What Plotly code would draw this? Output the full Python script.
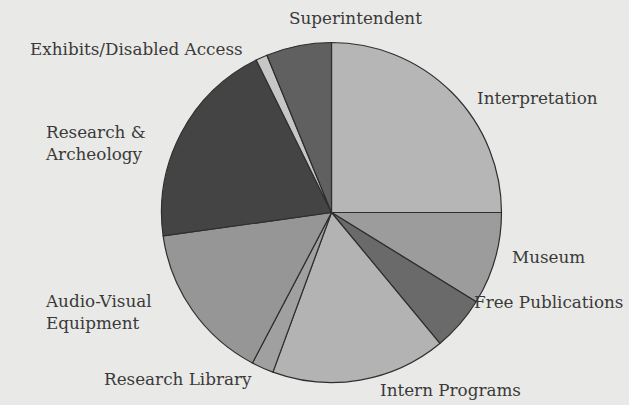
import plotly.graph_objects as go

categories = ["Interpretation", "Museum", "Free Publications", "Intern Programs",
              "Research Library", "Audio-Visual Equipment", "Research & Archeology",
              "Exhibits/Disabled Access", "Superintendent"]
values = [25.0, 8.8, 5.2, 16.6, 2.1, 15.1, 19.9, 1.1, 6.2]
slice_colors = ["#b6b6b6", "#9c9c9c", "#6a6a6a", "#b3b3b3", "#a0a0a0",
                "#969696", "#444444", "#c6c6c6", "#606060"]

# label text and placement (pixels from top-left, anchor)
label_texts = ["Interpretation", "Museum", "Free Publications", "Intern Programs",
               "Research Library", "Audio-Visual<br>Equipment", "Research &amp;<br>Archeology",
               "Exhibits/Disabled Access", "Superintendent"]
label_pos = [(475, 98, "left"), (510, 257, "left"), (472, 302, "left"), (450, 390, "center"),
             (178, 379, "center"), (43, 312, "left"), (43, 143, "left"),
             (245, 49, "right"), (355, 18, "center")]

W, H = 629, 405
cx, cy, r = 331.5, 212.5, 170

fig = go.Figure(go.Pie(
    labels=categories, values=values, sort=False, direction="clockwise", rotation=0,
    marker=dict(colors=slice_colors, line=dict(color="#2e2e2e", width=1.2)),
    textinfo="none", hoverinfo="label+percent", showlegend=False,
    domain=dict(x=[(cx - r) / W, (cx + r) / W], y=[(H - cy - r) / H, (H - cy + r) / H]),
))

for txt, (x, y, anc) in zip(label_texts, label_pos):
    fig.add_annotation(x=x / W, y=1 - y / H, xref="paper", yref="paper", text=txt,
                       showarrow=False, xanchor=anc, yanchor="middle", align="left",
                       font=dict(family="DejaVu Serif", size=16.8, color="#3a3a3a"))

fig.update_layout(width=W, height=H, margin=dict(l=0, r=0, t=0, b=0),
                  paper_bgcolor="#e9e9e7", plot_bgcolor="#e9e9e7")
fig.write_html("out.html", config={"displayModeBar": False},
               post_script="document.body.style.margin='0';document.body.style.background='#e9e9e7';")
